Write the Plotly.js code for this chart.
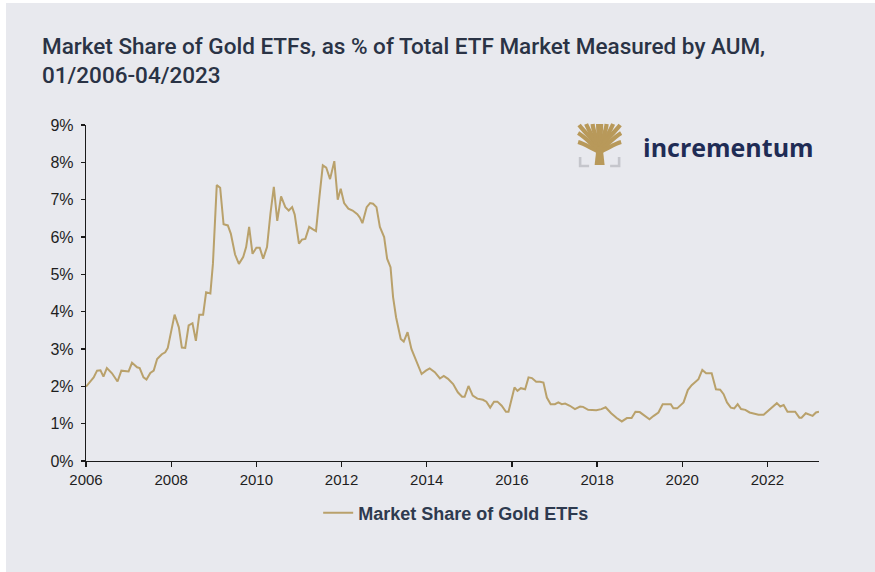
<!DOCTYPE html>
<html>
<head>
<meta charset="utf-8">
<script src="https://cdn.plot.ly/plotly-3.0.1.min.js"></script>
<style>
  html, body { margin: 0; padding: 0; background: #ffffff; width: 875px; height: 572px; overflow: hidden; }
  #chart { position: absolute; left: 6px; top: 3px; width: 869px; height: 569px; }
</style>
</head>
<body>
<div id="chart"></div>
<script>
// Decimal-year positions (monthly series, 01/2006 - 04/2023)
const years = [
  2006.00, 2006.18, 2006.26, 2006.34, 2006.41, 2006.49, 2006.61, 2006.74, 2006.83,
  2007.00, 2007.08, 2007.20, 2007.26, 2007.35, 2007.42, 2007.51, 2007.59, 2007.67, 2007.78, 2007.86, 2007.92,
  2008.00, 2008.08, 2008.18, 2008.25, 2008.33, 2008.41, 2008.50, 2008.58, 2008.66, 2008.75, 2008.82, 2008.92, 2008.98,
  2009.07, 2009.15, 2009.23, 2009.33, 2009.40, 2009.50, 2009.59, 2009.69, 2009.76, 2009.83, 2009.91,
  2010.00, 2010.08, 2010.16, 2010.25, 2010.33, 2010.41, 2010.49, 2010.58, 2010.68, 2010.76, 2010.84, 2010.90,
  2011.00, 2011.07, 2011.15, 2011.24, 2011.32, 2011.40, 2011.48, 2011.56, 2011.64, 2011.73, 2011.83, 2011.91, 2011.98,
  2012.06, 2012.16, 2012.26, 2012.37, 2012.43, 2012.49, 2012.59, 2012.67, 2012.74, 2012.82, 2012.90,
  2013.00, 2013.07, 2013.15, 2013.21, 2013.28, 2013.39, 2013.46, 2013.55, 2013.64, 2013.76, 2013.88, 2013.98,
  2014.07, 2014.19, 2014.31, 2014.40, 2014.50, 2014.62, 2014.73, 2014.83, 2014.89, 2014.98,
  2015.08, 2015.19, 2015.32, 2015.40, 2015.49, 2015.58, 2015.66, 2015.76, 2015.86, 2015.92,
  2016.00, 2016.06, 2016.13, 2016.21, 2016.31, 2016.39, 2016.47, 2016.57, 2016.66, 2016.74, 2016.82, 2016.91,
  2017.01, 2017.09, 2017.17, 2017.25, 2017.36, 2017.48, 2017.60, 2017.67, 2017.79, 2017.98,
  2018.10, 2018.20, 2018.33, 2018.46, 2018.58, 2018.70, 2018.81, 2018.90,
  2019.00, 2019.13, 2019.23, 2019.33, 2019.44, 2019.54, 2019.63, 2019.73, 2019.79, 2019.88,
  2020.03, 2020.13, 2020.22, 2020.30, 2020.38, 2020.47, 2020.56, 2020.69, 2020.79, 2020.89, 2020.97,
  2021.05, 2021.14, 2021.22, 2021.30, 2021.38, 2021.48, 2021.58, 2021.67, 2021.79, 2021.91,
  2022.02, 2022.12, 2022.22, 2022.30, 2022.38, 2022.47, 2022.57, 2022.65, 2022.75, 2022.80, 2022.90, 2022.99,
  2023.06, 2023.14, 2023.21
];

// Gold ETF share of total ETF AUM, in percent
const goldShare = [
  1.99, 2.24, 2.42, 2.43, 2.26, 2.49, 2.35, 2.13, 2.42,
  2.40, 2.63, 2.51, 2.49, 2.24, 2.18, 2.36, 2.42, 2.73, 2.86, 2.91, 3.03,
  3.49, 3.92, 3.58, 3.04, 3.03, 3.63, 3.69, 3.22, 3.92, 3.92, 4.52, 4.49, 5.28,
  7.39, 7.32, 6.34, 6.31, 6.09, 5.53, 5.28, 5.46, 5.73, 6.27, 5.55,
  5.71, 5.71, 5.42, 5.73, 6.62, 7.34, 6.43, 7.09, 6.80, 6.71, 6.80, 6.60,
  5.82, 5.93, 5.95, 6.27, 6.21, 6.16, 7.07, 7.92, 7.86, 7.55, 8.03, 7.00, 7.29,
  6.91, 6.76, 6.71, 6.61, 6.52, 6.37, 6.80, 6.91, 6.89, 6.80, 6.27,
  6.00, 5.42, 5.19, 4.39, 3.85, 3.27, 3.20, 3.45, 3.00, 2.64, 2.33, 2.42,
  2.48, 2.38, 2.21, 2.28, 2.20, 2.06, 1.84, 1.72, 1.72, 2.01,
  1.75, 1.67, 1.64, 1.59, 1.43, 1.59, 1.59, 1.48, 1.32, 1.32,
  1.70, 1.97, 1.88, 1.95, 1.92, 2.24, 2.22, 2.12, 2.12, 2.10, 1.70, 1.52,
  1.52, 1.57, 1.52, 1.54, 1.48, 1.39, 1.46, 1.45, 1.37, 1.36,
  1.39, 1.44, 1.28, 1.15, 1.06, 1.15, 1.15, 1.32,
  1.31, 1.21, 1.12, 1.21, 1.30, 1.52, 1.52, 1.52, 1.41, 1.41,
  1.57, 1.90, 2.03, 2.10, 2.19, 2.44, 2.35, 2.35, 1.92, 1.91, 1.79,
  1.57, 1.43, 1.41, 1.52, 1.39, 1.37, 1.30, 1.27, 1.24, 1.24,
  1.36, 1.45, 1.55, 1.46, 1.50, 1.32, 1.32, 1.32, 1.16, 1.16, 1.28, 1.25,
  1.21, 1.30, 1.32
];

const seriesName = "Market Share of Gold ETFs";
const yTickVals = [0, 1, 2, 3, 4, 5, 6, 7, 8, 9];
const yTickText = ["0%", "1%", "2%", "3%", "4%", "5%", "6%", "7%", "8%", "9%"];
const xTickVals = [2006, 2008, 2010, 2012, 2014, 2016, 2018, 2020, 2022];
const xTickText = ["2006", "2008", "2010", "2012", "2014", "2016", "2018", "2020", "2022"];

const titleText = "Market Share of Gold ETFs, as % of Total ETF Market Measured by AUM,<br>01/2006-04/2023";

const BG = "#e8e9ee";
const GOLD = "#b9a16b";

const treeSvg =
  '<svg xmlns="http://www.w3.org/2000/svg" viewBox="0 0 45 45">' +
  '<g stroke="#b8995a" stroke-width="4.2" stroke-linecap="butt" fill="none">' +
  '<path d="M22.5,27 C18,18 8,10 2,2"/><path d="M22.5,27 C17,16 12,8 9,1"/>' +
  '<path d="M22.5,27 C20,16 16,8 15.5,1"/><path d="M22.5,27 C22,16 21,8 21,1"/>' +
  '<path d="M22.5,27 C23,16 24,8 24,1"/><path d="M22.5,27 C25,16 29,8 29.5,1"/>' +
  '<path d="M22.5,27 C28,16 33,8 36,1"/><path d="M22.5,27 C27,18 37,10 43,2"/>' +
  '<path d="M22.5,28 C15,22 8,14 1,10"/><path d="M22.5,28 C30,22 37,14 44,10"/>' +
  '<path d="M22.5,29 C15,26 8,21 1,19"/><path d="M22.5,29 C30,26 37,21 44,19"/>' +
  '</g>' +
  '<path d="M17.5,42 L19.5,24 L25.5,24 L27.5,42 Z" fill="#b8995a"/>' +
  '<g stroke="#c5c6cc" stroke-width="2.6" fill="none">' +
  '<path d="M3,34 V43 H12"/><path d="M33,43 H42 V34"/>' +
  '</g></svg>';

const trace = {
  x: years,
  y: goldShare,
  type: "scatter",
  mode: "lines",
  name: seriesName,
  line: { color: GOLD, width: 2 },
  showlegend: true
};

const tickFont = { family: "'Liberation Sans', Arial, sans-serif", size: 15, color: "#1e1e1e" };

const layout = {
  width: 869,
  height: 569,
  paper_bgcolor: BG,
  plot_bgcolor: BG,
  margin: { l: 80, r: 56, t: 122, b: 111 },
  title: {
    text: titleText,
    font: { family: "Roboto, 'Noto Sans', sans-serif", size: 22.5, color: "#2a3345", weight: 500 },
    xref: "container", yref: "container",
    x: 0.0414, xanchor: "left",
    y: 0.910, yanchor: "top"
  },
  xaxis: {
    type: "linear",
    range: [2006, 2023.21],
    tickmode: "array",
    tickvals: xTickVals,
    ticktext: xTickText,
    showgrid: false,
    zeroline: false,
    showline: true,
    linecolor: "#1a1a1a",
    linewidth: 1.2,
    ticks: "outside",
    ticklen: 5,
    tickwidth: 1.2,
    tickcolor: "#1a1a1a",
    tickfont: tickFont,
    fixedrange: true
  },
  yaxis: {
    range: [0, 9],
    tickmode: "array",
    tickvals: yTickVals,
    ticktext: yTickText,
    showgrid: false,
    zeroline: false,
    showline: true,
    linecolor: "#1a1a1a",
    linewidth: 1.2,
    ticks: "outside",
    ticklen: 4,
    tickwidth: 1.2,
    tickcolor: "#1a1a1a",
    ticklabelstandoff: 4,
    tickfont: { family: "'Liberation Sans', Arial, sans-serif", size: 16, color: "#1e1e1e" },
    fixedrange: true
  },
  legend: {
    orientation: "h",
    x: 0.505, xanchor: "center",
    y: -0.155, yanchor: "middle",
    bgcolor: "rgba(0,0,0,0)",
    font: { family: "'Liberation Sans', Arial, sans-serif", size: 18, color: "#2e3a4f", weight: "bold" }
  },
  annotations: [
    {
      text: "incrementum",
      xref: "paper", yref: "paper",
      x: 0.757, y: 0.934,
      xanchor: "left", yanchor: "middle",
      showarrow: false,
      font: { family: "'Open Sans', 'Noto Sans', sans-serif", size: 25, color: "#1f2c55", weight: 700 }
    }
  ],
  images: [
    {
      source: "data:image/svg+xml;charset=utf-8," + encodeURIComponent(treeSvg),
      xref: "paper", yref: "paper",
      x: 0.670, y: 1.006,
      sizex: 0.0614, sizey: 0.134,
      xanchor: "left", yanchor: "top",
      sizing: "stretch",
      layer: "above"
    }
  ]
};

Plotly.newPlot("chart", [trace], layout, { displayModeBar: false, staticPlot: true });
</script>
</body>
</html>
